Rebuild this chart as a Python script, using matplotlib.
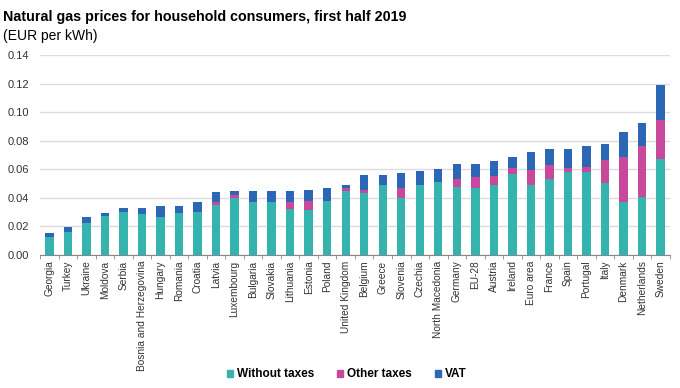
import matplotlib
matplotlib.use("Agg")
import matplotlib.pyplot as plt
import numpy as np
from matplotlib.patches import Patch

plt.rcParams['font.family'] = ['Liberation Sans', 'DejaVu Sans']

countries = ["Georgia", "Turkey", "Ukraine", "Moldova", "Serbia", "Bosnia and Herzegovina",
             "Hungary", "Romania", "Croatia", "Latvia", "Luxembourg", "Bulgaria", "Slovakia",
             "Lithuania", "Estonia", "Poland", "United Kingdom", "Belgium", "Greece", "Slovenia",
             "Czechia", "North Macedonia", "Germany", "EU-28", "Austria", "Ireland", "Euro area",
             "France", "Spain", "Portugal", "Italy", "Denmark", "Netherlands", "Sweden"]

# components in EUR per kWh
without_taxes = [0.0124, 0.0163, 0.0222, 0.0275, 0.0303, 0.0285,
                 0.0268, 0.0292, 0.0299, 0.0353, 0.0400, 0.0372, 0.0372,
                 0.0322, 0.0318, 0.0376, 0.0447, 0.0431, 0.0487, 0.0400,
                 0.0487, 0.0510, 0.0475, 0.0466, 0.0487, 0.0565, 0.0487,
                 0.0529, 0.0584, 0.0579, 0.0506, 0.0369, 0.0407, 0.0675]
other_taxes = [0.0, 0.0, 0.0, 0.0, 0.0, 0.0,
               0.0, 0.0, 0.0, 0.0019, 0.0019, 0.0, 0.0,
               0.0050, 0.0063, 0.0, 0.0023, 0.0021, 0.0, 0.0071,
               0.0, 0.0, 0.0054, 0.0082, 0.0066, 0.0042, 0.0108,
               0.0099, 0.0028, 0.0040, 0.0162, 0.0316, 0.0358, 0.0273]
vat = [0.0028, 0.0033, 0.0042, 0.0017, 0.0028, 0.0046,
       0.0073, 0.0053, 0.0073, 0.0070, 0.0028, 0.0075, 0.0075,
       0.0075, 0.0075, 0.0094, 0.0022, 0.0106, 0.0071, 0.0105,
       0.0099, 0.0090, 0.0106, 0.0087, 0.0108, 0.0080, 0.0123,
       0.0111, 0.0127, 0.0146, 0.0106, 0.0176, 0.0160, 0.0240]

c_without = "#35b3ae"
c_other = "#c8489b"
c_vat = "#2b67b4"

fig = plt.figure(figsize=(6.8, 3.88), dpi=100)
ax = fig.add_axes([0.059, 0.343, 0.926, 0.515])

x = np.arange(len(countries))
w = 0.45
b1 = np.array(without_taxes)
b2 = b1 + np.array(other_taxes)
ax.bar(x, without_taxes, w, color=c_without, zorder=3)
ax.bar(x, other_taxes, w, bottom=b1, color=c_other, zorder=3)
ax.bar(x, vat, w, bottom=b2, color=c_vat, zorder=3)

ax.set_xlim(-0.5, len(countries) - 0.5)
ax.set_ylim(0, 0.14)
ax.set_yticks(np.arange(0, 0.141, 0.02))
ax.set_yticklabels([f"{v:.2f}" for v in np.arange(0, 0.141, 0.02)])
ax.yaxis.grid(True, color="#dcdcdc", linewidth=1, zorder=0)
ax.tick_params(axis="y", length=0, labelsize=8, colors="#333333", pad=8)

ax.set_xticks(x)
ax.set_xticklabels(countries, rotation=90, fontsize=7.3, color="#333333")
ax.tick_params(axis="x", length=0, pad=4)
ax.set_xticks(np.arange(-0.5, len(countries), 1), minor=True)
ax.tick_params(axis="x", which="minor", length=3, color="#888888")

for s in ["top", "right", "left"]:
    ax.spines[s].set_visible(False)
ax.spines["bottom"].set_color("#888888")

fig.text(0.005, 0.975, "Natural gas prices for household consumers, first half 2019",
         fontsize=10.3, fontweight="bold", va="top", ha="left")
fig.text(0.005, 0.925, "(EUR per kWh)", fontsize=10, va="top", ha="left")

handles = [Patch(color=c_without), Patch(color=c_other), Patch(color=c_vat)]
leg = fig.legend(handles, ["Without taxes", "Other taxes", "VAT"], loc="center",
                 bbox_to_anchor=(0.51, 0.035), ncol=3, frameon=False,
                 handlelength=0.5, handleheight=0.5, handletextpad=0.3, columnspacing=2.0,
                 prop={"weight": "bold", "size": 8.5})

fig.savefig("out.png", dpi=100)
